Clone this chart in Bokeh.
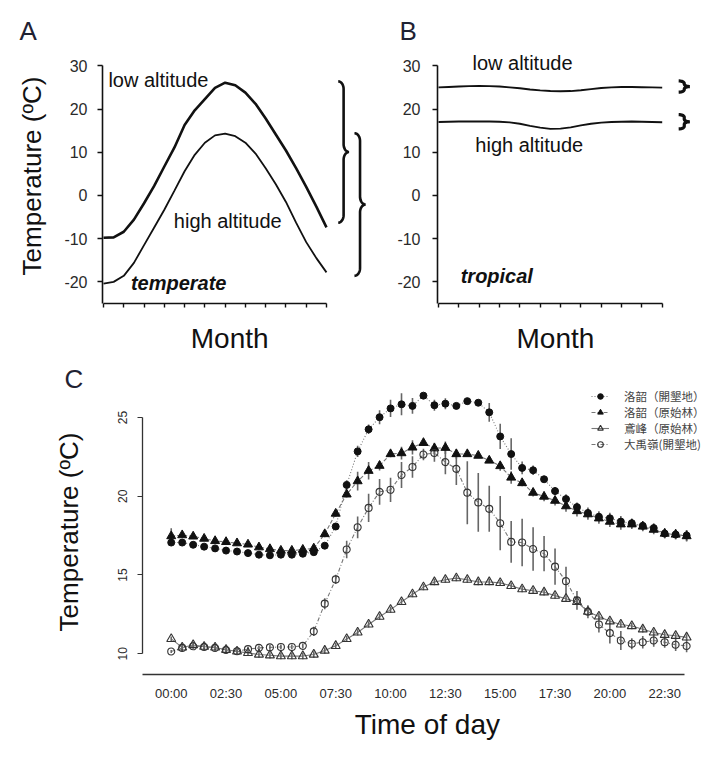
import numpy as np
from bokeh.plotting import figure
from bokeh.models import (ColumnDataSource, FixedTicker, Legend, LegendItem, Range1d,
                          CustomLabelingPolicy)
from bokeh.layouts import column, row
from bokeh.embed import file_html
from bokeh.resources import INLINE
from bokeh.core.properties import value

# ---------------- data: panels A and B (annual temperature curves) ----------------
month_pos = [0.0, 0.5, 1.0, 1.5, 2.0, 2.5, 3.0, 3.5, 4.0, 4.5, 5.0, 5.5,
             6.0, 6.5, 7.0, 7.5, 8.0, 8.5, 9.0, 9.5, 10.0, 10.5, 11.0]
month_ticks = [0, 1, 2, 3, 4, 5, 6, 7, 8, 9, 10, 11]
temp_ticks_ab = [-20, -10, 0, 10, 20, 30]
temp_tick_labels_ab = ["-20", "-10", "0", "10", "20", "30"]

temperate_low = [-9.8, -9.7, -8.4, -5.6, -1.8, 2.2, 6.7, 11.1, 16.3, 19.7, 22.3, 24.9,
                 26.1, 25.5, 23.8, 21.2, 17.8, 14.1, 10.4, 6.3, 2.0, -2.6, -7.4]
temperate_high = [-20.4, -20.0, -18.6, -15.6, -11.5, -7.4, -3.3, 1.1, 5.6, 9.4, 12.2, 13.9,
                  14.3, 13.7, 12.2, 9.7, 6.3, 2.6, -1.5, -6.3, -10.8, -14.5, -17.8]
tropical_low = [25.0, 25.1, 25.2, 25.3, 25.35, 25.3, 25.2, 25.0, 24.8, 24.5, 24.3, 24.15,
                24.1, 24.15, 24.35, 24.6, 24.85, 25.0, 25.1, 25.1, 25.05, 25.0, 24.95]
tropical_high = [17.0, 17.05, 17.1, 17.1, 17.1, 17.1, 17.05, 16.9, 16.6, 16.1, 15.7, 15.4,
                 15.45, 15.75, 16.2, 16.6, 16.85, 17.0, 17.05, 17.1, 17.05, 17.0, 16.95]

# ---------------- data: panel C (half-hourly temperature, mean and SD) ----------------
slot = list(range(48))
tick_slots = [0, 5, 10, 15, 20, 25, 30, 35, 40, 45]
time_labels = ["00:00", "02:30", "05:00", "07:30", "10:00",
               "12:30", "15:00", "17:30", "20:00", "22:30"]
temp_ticks_c = [10, 15, 20, 25]
series_names = ["洛韶（開墾地）", "洛韶（原始林）", "鳶峰（原始林）", "大禹嶺(開墾地)"]

luoshao_open = [17.06, 17.06, 16.92, 16.80, 16.69, 16.55, 16.49, 16.39, 16.29, 16.25, 16.29, 16.29,
                16.35, 16.45, 16.86, 18.08, 20.72, 22.85, 24.25, 25.02, 25.58, 25.84, 25.74, 26.39,
                25.78, 25.88, 25.74, 26.04, 25.94, 25.33, 23.80, 22.68, 21.80, 21.65, 21.08, 20.33,
                19.82, 19.31, 18.94, 18.70, 18.60, 18.39, 18.29, 18.12, 17.98, 17.63, 17.57, 17.51]
luoshao_open_sd = [0.15, 0.1, 0.1, 0.1, 0.1, 0.1, 0.1, 0.1, 0.1, 0.1, 0.1, 0.1,
                   0.1, 0.1, 0.15, 0.2, 0.3, 0.35, 0.3, 0.45, 0.55, 0.7, 0.5, 0.1,
                   0.35, 0.35, 0.15, 0.1, 0.1, 0.6, 0.8, 1.0, 0.4, 0.3, 0.15, 0.25,
                   0.3, 0.3, 0.35, 0.35, 0.35, 0.35, 0.3, 0.3, 0.3, 0.3, 0.3, 0.35]
luoshao_forest = [17.47, 17.53, 17.45, 17.31, 17.16, 17.10, 17.02, 16.94, 16.76, 16.65, 16.55, 16.55,
                  16.61, 16.69, 17.60, 18.90, 20.12, 20.96, 21.62, 21.94, 22.68, 22.74, 23.10, 23.39,
                  23.05, 23.08, 22.68, 22.68, 22.58, 22.27, 21.92, 21.19, 20.84, 20.23, 19.98, 19.72,
                  19.37, 19.06, 18.86, 18.60, 18.39, 18.22, 18.22, 18.08, 17.88, 17.63, 17.57, 17.47]
luoshao_forest_sd = [0.5, 0.15, 0.15, 0.15, 0.15, 0.15, 0.15, 0.15, 0.15, 0.15, 0.15, 0.15,
                     0.15, 0.15, 0.2, 0.2, 0.2, 0.6, 0.55, 0.3, 0.2, 0.4, 0.45, 0.15,
                     0.35, 0.4, 0.3, 0.1, 0.1, 0.15, 0.3, 0.4, 0.2, 0.25, 0.3, 0.3,
                     0.35, 0.35, 0.35, 0.35, 0.35, 0.35, 0.3, 0.3, 0.3, 0.3, 0.3, 0.35]
yuanfeng_forest = [10.94, 10.40, 10.55, 10.45, 10.40, 10.25, 10.15, 10.05, 9.95, 9.90, 9.85, 9.85,
                   9.85, 9.95, 10.20, 10.50, 10.94, 11.35, 11.86, 12.35, 12.80, 13.29, 13.78, 14.23,
                   14.55, 14.70, 14.80, 14.70, 14.55, 14.55, 14.50, 14.31, 14.10, 14.00, 13.90, 13.69,
                   13.49, 13.29, 12.67, 12.37, 12.06, 11.86, 11.76, 11.55, 11.35, 11.20, 11.14, 11.04]
yuanfeng_forest_sd = [0.15, 0.2, 0.2, 0.2, 0.2, 0.2, 0.2, 0.2, 0.2, 0.2, 0.2, 0.2,
                      0.2, 0.2, 0.2, 0.2, 0.2, 0.2, 0.2, 0.2, 0.2, 0.2, 0.2, 0.2,
                      0.2, 0.2, 0.2, 0.2, 0.2, 0.2, 0.2, 0.2, 0.2, 0.2, 0.2, 0.2,
                      0.2, 0.2, 0.2, 0.2, 0.2, 0.2, 0.2, 0.2, 0.2, 0.2, 0.2, 0.2]
dayuling_open = [10.14, 10.37, 10.47, 10.43, 10.37, 10.24, 10.16, 10.29, 10.37, 10.40, 10.43, 10.43,
                 10.50, 11.42, 13.18, 14.72, 16.62, 18.03, 19.26, 20.28, 20.41, 21.35, 21.86, 22.65,
                 22.75, 22.17, 21.74, 20.23, 19.61, 19.20, 18.29, 17.10, 17.06, 16.65, 16.35, 15.53,
                 14.61, 13.39, 12.67, 11.86, 11.31, 10.84, 10.63, 10.73, 10.84, 10.73, 10.57, 10.49]
dayuling_open_sd = [0.1, 0.25, 0.15, 0.15, 0.15, 0.15, 0.15, 0.15, 0.15, 0.15, 0.15, 0.15,
                    0.15, 0.3, 0.35, 0.3, 0.55, 0.69, 0.9, 0.82, 0.77, 0.82, 0.68, 0.36,
                    0.56, 0.77, 1.02, 2.0, 1.87, 1.46, 1.72, 1.33, 1.51, 1.38, 1.12, 1.15,
                    0.92, 0.59, 0.41, 0.51, 0.66, 0.61, 0.35, 0.4, 0.4, 0.35, 0.4, 0.4]

# ---------------- styling ----------------
FONT = "Liberation Sans"
CJK = "Noto Sans CJK TC"
INK = "#111111"
TICK_INK = "#2a2a2a"
LETTER_INK = "#1f2233"
NBSP = "\u00a0"


def base_style(p):
    p.xgrid.visible = False
    p.ygrid.visible = False
    p.outline_line_color = None
    p.background_fill_color = "white"
    p.border_fill_color = "white"


def brace_xy(x0, width, y_bot, y_top, ry):
    """Curly brace '}' pointing right, left hook ends at x0."""
    ym = 0.5 * (y_bot + y_top)
    xs = x0 + width / 2.0
    t = np.linspace(0, np.pi / 2, 14)
    hx = x0 + (width / 2.0) * np.sin(t)
    hy = (y_top - ry) + ry * np.cos(t)
    tx = (x0 + width) - (width / 2.0) * np.cos(t)
    ty = (ym + ry) - ry * np.sin(t)
    ux = np.concatenate([hx, [xs], tx])
    uy = np.concatenate([hy, [ym + ry], ty])
    lx = ux[::-1]
    ly = 2 * ym - uy[::-1]
    return list(np.concatenate([ux, lx[1:]])), list(np.concatenate([uy, ly[1:]]))


def style_ab_axes(p, label_standoff, ylabel, month_label):
    ya = p.yaxis[0]
    ya.bounds = (-25, 30)
    ya.ticker = FixedTicker(ticks=temp_ticks_ab)
    ya.major_label_overrides = {t: s for t, s in zip(temp_ticks_ab, temp_tick_labels_ab)}
    ya.minor_tick_line_color = None
    ya.major_tick_out = 5
    ya.major_tick_in = 0
    ya.major_label_standoff = label_standoff
    ya.major_label_text_font = FONT
    ya.major_label_text_font_size = "16px"
    ya.major_label_text_color = TICK_INK
    ya.axis_line_width = 1.6
    ya.axis_line_color = INK
    ya.major_tick_line_width = 1.4
    ya.major_tick_line_color = INK
    if ylabel:
        ya.axis_label = ylabel
        ya.axis_label_text_font = FONT
        ya.axis_label_text_font_size = "26px"
        ya.axis_label_text_font_style = "normal"
        ya.axis_label_text_color = INK
        ya.axis_label_standoff = 14
    xa = p.xaxis[0]
    xa.bounds = (0, 11)
    xa.ticker = FixedTicker(ticks=month_ticks)
    xa.minor_tick_line_color = None
    xa.major_tick_out = 4
    xa.major_tick_in = 0
    xa.major_label_text_font_size = "1px"
    xa.major_label_standoff = 0
    xa.major_label_policy = CustomLabelingPolicy(code="return new Set()")
    xa.axis_line_width = 1.6
    xa.axis_line_color = INK
    xa.major_tick_line_width = 1.4
    xa.major_tick_line_color = INK
    xa.axis_label = month_label
    xa.axis_label_text_font = FONT
    xa.axis_label_text_font_size = "28px"
    xa.axis_label_text_font_style = "normal"
    xa.axis_label_text_color = INK
    xa.axis_label_standoff = 11


def style_title(p, offset, standoff):
    p.title.text_font = FONT
    p.title.text_font_size = "26px"
    p.title.text_font_style = "normal"
    p.title.text_color = LETTER_INK
    p.title.align = "left"
    p.title.offset = offset
    p.title.standoff = standoff


def add_text(p, x, y, txt, style="normal"):
    p.text(x=[x], y=[y], text=[txt], text_font=value(FONT), text_font_size="20px",
           text_font_style=style, text_color=INK, text_align="left", text_baseline="middle")


# ---------------- Panel A ----------------
pA = figure(width=372, height=356, x_range=Range1d(-0.05, 13.27), y_range=Range1d(-25, 34),
            output_backend="svg", toolbar_location=None, title="A",
            min_border_left=102, min_border_right=0, min_border_top=48, min_border_bottom=48)
base_style(pA)
style_ab_axes(pA, 10, "Temperature (ºC)", "Month" + NBSP * 2)
style_title(pA, -83, 6)
pA.line(month_pos, temperate_low, line_color=INK, line_width=2.6)
pA.line(month_pos, temperate_high, line_color=INK, line_width=1.8)
add_text(pA, 0.24, 26.6, "low altitude")
add_text(pA, 3.47, -5.9, "high altitude")
add_text(pA, 1.35, -20.3, "temperate", "bold italic")
for bx0, bw, yb, yt in [(11.58, 0.53, -6.3, 26.4), (12.38, 0.55, -18.6, 14.4)]:
    xs, ys = brace_xy(bx0, bw, yb, yt, 1.8)
    pA.line(xs, ys, line_color=INK, line_width=2.6)

# ---------------- Panel B ----------------
pB = figure(width=332, height=356, x_range=Range1d(-0.05, 13.08), y_range=Range1d(-25, 34),
            output_backend="svg", toolbar_location=None, title="B",
            min_border_left=65, min_border_right=0, min_border_top=48, min_border_bottom=48)
base_style(pB)
style_ab_axes(pB, 12, None, "Month" + NBSP * 4)
style_title(pB, -38, 6)
pB.line(month_pos, tropical_low, line_color=INK, line_width=1.9)
pB.line(month_pos, tropical_high, line_color=INK, line_width=1.9)
add_text(pB, 1.67, 30.6, "low altitude")
add_text(pB, 1.81, 11.7, "high altitude")
add_text(pB, 1.09, -18.7, "tropical", "bold italic")
for bx0, bw, yb, yt in [(11.81, 0.55, 23.9, 26.5), (11.81, 0.55, 15.4, 18.7)]:
    xs, ys = brace_xy(bx0, bw, yb, yt, 0.6)
    pB.line(xs, ys, line_color=INK, line_width=3.2)

# ---------------- Panel C ----------------
pC = figure(width=704, height=386, x_range=Range1d(-2.62, 48.63), y_range=Range1d(8.68, 26.78),
            output_backend="svg", toolbar_location=None, title="C",
            min_border_left=142, min_border_right=0, min_border_top=33, min_border_bottom=63)
base_style(pC)
style_title(pC, -78, -8)

ya = pC.yaxis[0]
ya.bounds = (10, 25)
ya.ticker = FixedTicker(ticks=temp_ticks_c)
ya.minor_tick_line_color = None
ya.major_tick_out = 5
ya.major_tick_in = 0
ya.major_label_orientation = "vertical"
ya.major_label_standoff = 10
ya.major_label_text_font = FONT
ya.major_label_text_font_size = "12px"
ya.major_label_text_color = TICK_INK
ya.axis_line_width = 1.3
ya.axis_line_color = "#333333"
ya.major_tick_line_color = "#333333"
ya.axis_label = "Temperature (ºC)"
ya.axis_label_text_font = FONT
ya.axis_label_text_font_size = "26px"
ya.axis_label_text_font_style = "normal"
ya.axis_label_text_color = INK
ya.axis_label_standoff = 32

xa = pC.xaxis[0]
xa.bounds = (-2.62, 46.8)
xa.ticker = FixedTicker(ticks=tick_slots)
xa.major_label_overrides = {t: lab for t, lab in zip(tick_slots, time_labels)}
xa.minor_tick_line_color = None
xa.major_tick_line_color = None
xa.major_tick_out = 0
xa.major_tick_in = 0
xa.major_label_standoff = 11
xa.major_label_text_font = FONT
xa.major_label_text_font_size = "13px"
xa.major_label_text_color = TICK_INK
xa.axis_line_width = 1.3
xa.axis_line_color = "#333333"
xa.axis_label = NBSP + "Time of day"
xa.axis_label_text_font = FONT
xa.axis_label_text_font_size = "28px"
xa.axis_label_text_font_style = "normal"
xa.axis_label_text_color = INK
xa.axis_label_standoff = 5

series = [
    dict(mean=luoshao_open, sd=luoshao_open_sd, marker="circle", size=7, fill=INK, dash="1 2"),
    dict(mean=luoshao_forest, sd=luoshao_forest_sd, marker="triangle", size=9, fill=INK, dash="4 2"),
    dict(mean=yuanfeng_forest, sd=yuanfeng_forest_sd, marker="triangle", size=9, fill=None, dash="solid"),
    dict(mean=dayuling_open, sd=dayuling_open_sd, marker="circle", size=7, fill=None, dash="4 2 1 2"),
]
sources = []
for s in series:
    lo = [m - d for m, d in zip(s["mean"], s["sd"])]
    hi = [m + d for m, d in zip(s["mean"], s["sd"])]
    sources.append(ColumnDataSource(dict(x=slot, y=s["mean"], lo=lo, hi=hi)))

line_rs = []
for s, src in zip(series, sources):
    line_rs.append(pC.line("x", "y", source=src, line_color="#777777", line_width=1.1,
                           line_dash=s["dash"]))
for s, src in zip(series, sources):
    pC.segment(x0="x", y0="lo", x1="x", y1="hi", source=src, line_color="#666666", line_width=1.6)
scat_rs = []
for s, src in zip(series, sources):
    if s["fill"] is None:
        r = pC.scatter("x", "y", source=src, marker=s["marker"], size=s["size"],
                       fill_alpha=0, line_color="#333333", line_width=1.1)
    else:
        r = pC.scatter("x", "y", source=src, marker=s["marker"], size=s["size"],
                       fill_color=s["fill"], line_color=s["fill"], line_width=1)
    scat_rs.append(r)

items = [LegendItem(label=name, renderers=[lr, sr])
         for name, lr, sr in zip(series_names, line_rs, scat_rs)]
legend = Legend(items=items, location=(449, 222), margin=0, padding=0, spacing=0,
                label_text_font=CJK, label_text_font_size="11.5px", label_text_color="#444444",
                label_standoff=15, glyph_width=18, glyph_height=14, label_height=14,
                background_fill_alpha=0, border_line_color=None)
pC.add_layout(legend)

layout = column(row(pA, pB, spacing=0), pC, spacing=0)
open("out.html", "w").write(file_html(layout, INLINE))
